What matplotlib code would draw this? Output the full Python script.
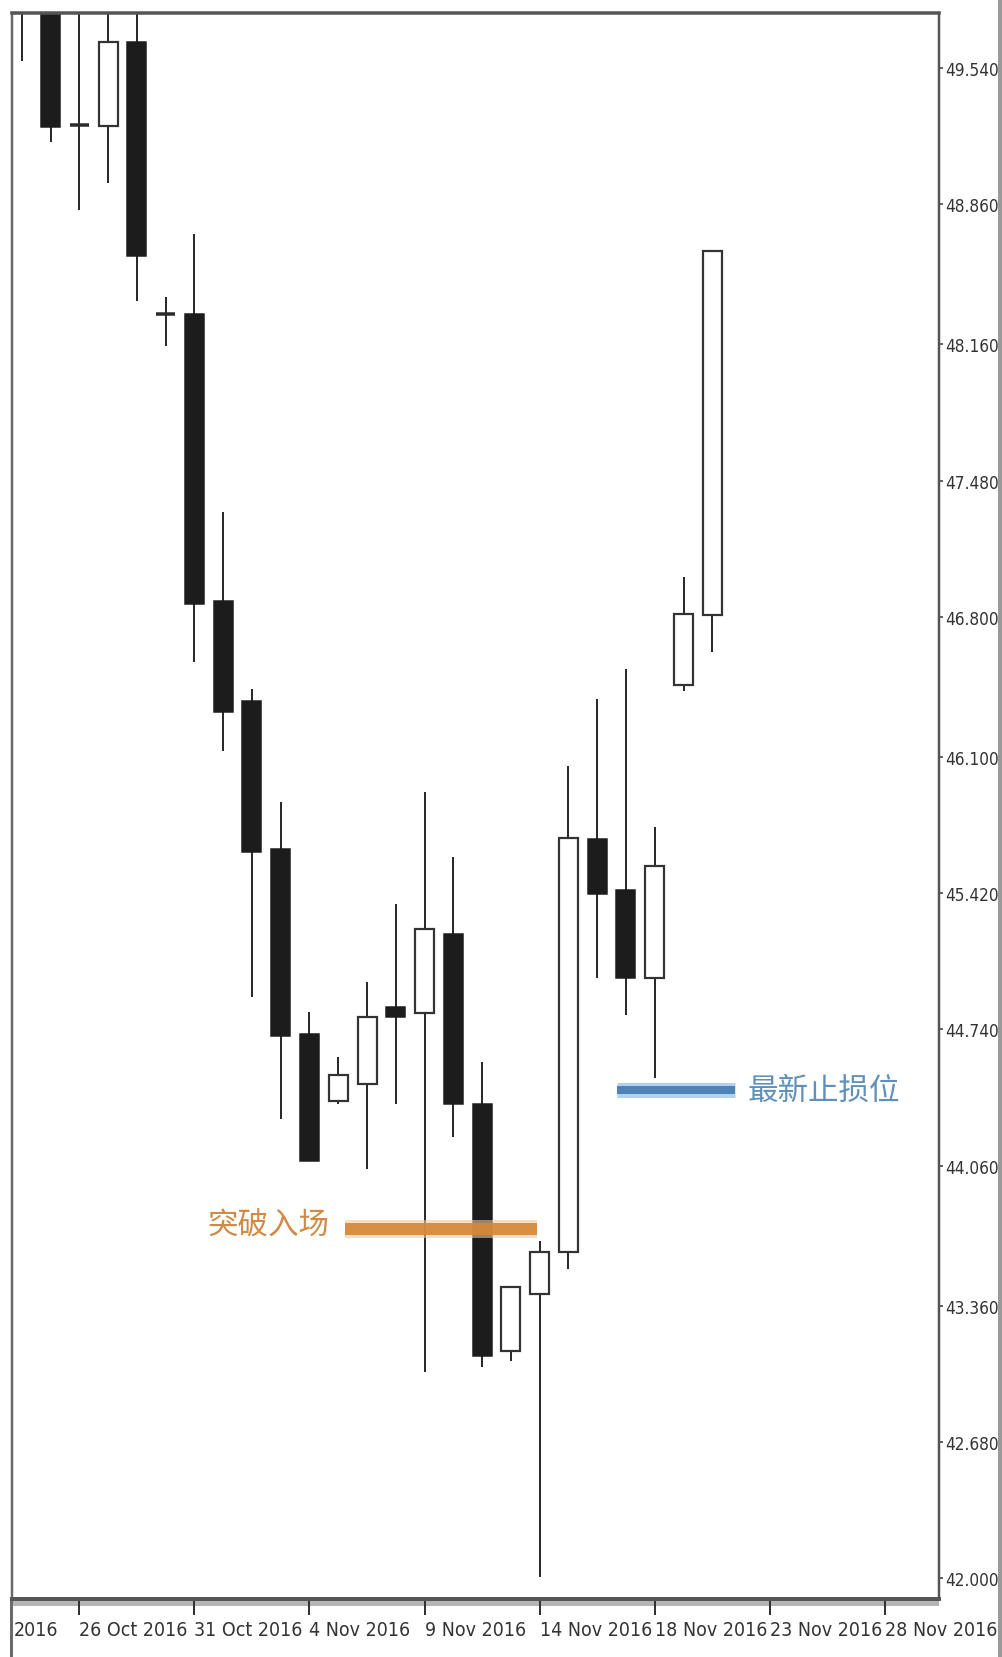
import numpy as np
import matplotlib
matplotlib.use("Agg")
import matplotlib.pyplot as plt
import matplotlib.font_manager as fm
from matplotlib.patches import Rectangle

# ---------------- data ----------------
dates = ['24 Oct', '25 Oct', '26 Oct', '27 Oct', '28 Oct', '30 Oct', '31 Oct',
         '1 Nov', '2 Nov', '3 Nov', '4 Nov', '6 Nov', '7 Nov', '8 Nov', '9 Nov',
         '10 Nov', '11 Nov', '13 Nov', '14 Nov', '15 Nov', '16 Nov', '17 Nov',
         '18 Nov', '20 Nov', '21 Nov']
opens = [49.92, 50.05, 49.255, 49.252, 49.671, 48.312, 48.312, 46.879, 46.380,
         45.641, 44.717, 44.383, 44.468, 44.852, 44.822, 45.216, 44.368, 43.135,
         43.419, 43.629, 45.689, 45.435, 44.998, 46.459, 46.809]
highs = [50.10, 50.10, 49.90, 49.85, 49.85, 48.398, 48.711, 47.323, 46.440,
         45.875, 44.827, 44.602, 44.977, 45.366, 45.925, 45.601, 44.578, 43.454,
         43.684, 46.056, 46.390, 46.539, 45.751, 47.001, 48.628]
lows = [49.575, 49.169, 48.833, 48.966, 48.378, 48.154, 46.574, 46.130, 44.902,
        44.293, 44.083, 44.368, 44.043, 44.368, 43.030, 44.203, 43.055, 43.085,
        42.006, 43.544, 44.998, 44.814, 44.499, 46.430, 46.625]
closes = [50.05, 49.244, 49.255, 49.668, 48.603, 48.312, 46.864, 46.325, 45.626,
          44.707, 44.083, 44.513, 44.802, 44.802, 45.241, 44.368, 43.110, 43.454,
          43.629, 45.698, 45.418, 44.998, 45.558, 46.812, 48.628]

date_tick_pos = [3, 7, 11, 15, 19, 23, 27, 31]
date_tick_labels = ['26 Oct 2016', '31 Oct 2016', '4 Nov 2016', '9 Nov 2016',
                    '14 Nov 2016', '18 Nov 2016', '23 Nov 2016', '28 Nov 2016']
price_ticks = [49.54, 48.86, 48.16, 47.48, 46.80, 46.10, 45.42, 44.74, 44.06,
               43.36, 42.68, 42.00]
price_labels = ['49.540', '48.860', '48.160', '47.480', '46.800', '46.100',
                '45.420', '44.740', '44.060', '43.360', '42.680', '42.000']

entry_label = '突破入场'
entry_level = 43.744
entry_span = (12.24, 18.91)
stop_label = '最新止损位'
stop_level = 44.438
stop_span = (21.69, 25.79)

# ---------------- narrow font for the axis labels ----------------
def find_narrow(size):
    prefs = ['liberation sans narrow', 'dejavu sans condensed', 'roboto condensed',
             'open sans condensed', 'noto sans condensed', 'dejavu sans']
    cands = []
    for f in fm.fontManager.ttflist:
        fn = f.fname.lower()
        nm = f.name.lower()
        if any(k in fn for k in ('bold', 'italic', 'oblique', 'light', 'thin',
                                 'black', 'medium', 'semi', 'extra')):
            continue
        if ('narrow' in fn or 'condensed' in fn or 'narrow' in nm
                or f.stretch in ('condensed', 'semi-condensed')):
            score = 10
            for i, p in enumerate(prefs):
                if p in nm or p.replace(' ', '') in fn.replace('-', '').replace('_', ''):
                    score = i
                    break
            cands.append((score, f.fname))
    if cands:
        cands.sort()
        return fm.FontProperties(fname=cands[0][1], size=size)
    return fm.FontProperties(family=['Liberation Sans', 'DejaVu Sans'],
                             size=size * 0.82)

date_fp = find_narrow(14)
price_fp = find_narrow(12.3)

# ---------------- figure ----------------
W, H = 1002, 1658
fig = plt.figure(figsize=(W / 100, H / 100), dpi=100)
fig.patch.set_facecolor('white')
ax = fig.add_axes([12 / W, 58 / H, 927 / W, 1586 / H])
ax.set_facecolor('white')

px = 0.72  # points per pixel

x = np.arange(1, len(dates) + 1)
o = np.array(opens); c = np.array(closes)
hi = np.array(highs); lo = np.array(lows)

wick_col = '#2b2b2b'
ax.vlines(x, lo, hi, color=wick_col, linewidth=2 * px, zorder=1)

up = c > o + 0.004
down = c < o - 0.004
doji = ~(up | down)
bw = 0.66
ax.bar(x[up], (c - o)[up], bottom=o[up], width=bw, color='white',
       edgecolor='#333333', linewidth=2.2 * px, zorder=2)
ax.bar(x[down], (o - c)[down], bottom=c[down], width=bw, color='#1c1c1c',
       edgecolor='#1c1c1c', linewidth=1.5 * px, zorder=2)
ax.hlines(o[doji], x[doji] - bw / 2, x[doji] + bw / 2, color='#2b2b2b',
          linewidth=3.5 * px, zorder=2)

# annotation lines
ax.hlines(entry_level, *entry_span, color='#f3c89a', linewidth=18 * px,
          alpha=0.6, zorder=3)
ax.hlines(entry_level, *entry_span, color='#d4883a', linewidth=12 * px,
          alpha=0.92, zorder=4)
ax.hlines(stop_level, *stop_span, color='#aed2ef', linewidth=15 * px,
          zorder=3)
ax.hlines(stop_level, *stop_span, color='#4f83b5', linewidth=8 * px,
          zorder=4)

ax.text(entry_span[0] - 0.55, entry_level + 0.02, entry_label,
        family=['Noto Sans CJK SC', 'DejaVu Sans'], fontsize=22,
        color='#d08a45', ha='right', va='center', zorder=5)
ax.text(stop_span[1] + 0.42, stop_level, stop_label,
        family=['Noto Sans CJK SC', 'DejaVu Sans'], fontsize=22,
        color='#5f90ba', ha='left', va='center', zorder=5)

# axes limits
ax.set_xlim(0.661, 32.88)
ax.set_ylim(41.8964, 49.8146)

# ticks
ax.yaxis.tick_right()
ax.set_yticks(price_ticks)
ax.set_yticklabels(price_labels, fontproperties=price_fp, color='#333333')
ax.tick_params(axis='y', direction='out', length=4 * px, width=1.5 * px,
               pad=2 * px, colors='#333333')
ax.set_xticks(date_tick_pos)
ax.set_xticklabels(date_tick_labels, fontproperties=date_fp, color='#333333')
for lab in ax.get_xticklabels():
    lab.set_ha('left')
ax.tick_params(axis='x', direction='out', length=16 * px, width=2 * px,
               pad=5 * px, colors='#333333')

for side, col, lw in [('top', '#555555', 3.5), ('bottom', '#555555', 4),
                      ('left', '#6a6a6a', 2.5), ('right', '#555555', 2.5)]:
    ax.spines[side].set_color(col)
    ax.spines[side].set_linewidth(lw * px)

# frame details (light bands and edges)
def fig_rect(x0, y0, x1, y1, col):
    fig.add_artist(Rectangle((x0 / W, 1 - y1 / H), (x1 - x0) / W,
                             (y1 - y0) / H, transform=fig.transFigure,
                             facecolor=col, edgecolor='none', zorder=-1))

fig_rect(12, 16, 939, 21, '#e2e2e2')
fig_rect(12, 1602, 939, 1607, '#b5b5b5')
fig_rect(998, 0, 1002, H, '#9a9a9a')
fig_rect(10, 1600, 13, H, '#6a6a6a')

# clipped label of the first (off-screen) date tick
fig.text(14 / W, 1 - 1621 / H, '2016', fontproperties=date_fp,
         color='#333333', ha='left', va='top')

fig.savefig('out.png', dpi=100, facecolor='white')
